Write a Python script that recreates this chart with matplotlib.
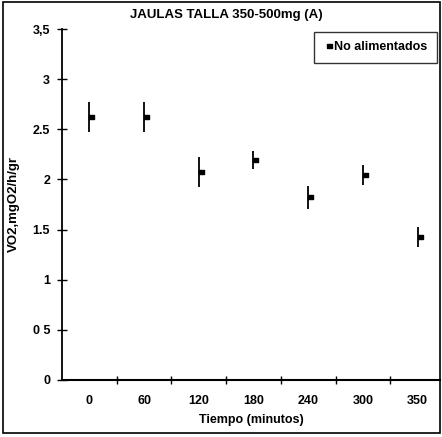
import matplotlib
matplotlib.use("Agg")
import matplotlib.pyplot as plt
from matplotlib.patches import Rectangle

plt.rcParams['font.family'] = ['Liberation Sans', 'DejaVu Sans']

# data
tiempos = ['0', '60', '120', '180', '240', '300', '350']
vo2 = [2.62, 2.62, 2.07, 2.19, 1.82, 2.04, 1.43]
err = [0.15, 0.15, 0.15, 0.09, 0.11, 0.10, 0.10]

fig = plt.figure(figsize=(4.42, 4.37), dpi=100)
ax = fig.add_axes([62 / 442, 1 - 380 / 437, (440 - 62) / 442, (380 - 29) / 437])

x = list(range(len(tiempos)))
ax.errorbar(x, vo2, yerr=err, fmt='none', ecolor='black', elinewidth=1.3, capsize=0)
# small block marker sitting right of the error line
blk = [(0, -0.4), (1, -0.4), (1, 0.4), (0, 0.4), (0, -0.4)]
ax.plot(x, vo2, linestyle='none', marker=blk, markersize=7, color='black',
        label='No alimentados')

ax.set_xlim(-0.5, 6.41)
ax.set_ylim(0, 3.5)
ax.set_yticks([0, 0.5, 1, 1.5, 2, 2.5, 3, 3.5])
ax.set_yticklabels(['0', '0 5', '1', '1.5', '2', '2.5', '3', '3,5'])
ax.set_xticks([i + 0.5 for i in range(6)])
ax.set_xticklabels([])
ax.set_xticks(x, minor=True)
ax.set_xticklabels(tiempos, minor=True)
ax.tick_params(axis='x', which='major', direction='inout', length=6, width=1)
ax.tick_params(axis='x', which='minor', length=0, pad=11, labelsize=9)
ax.tick_params(axis='y', direction='inout', length=7, width=1, labelsize=9, pad=5)
for lab in ax.get_xticklabels(minor=True) + ax.get_yticklabels():
    lab.set_fontweight('bold')

for s in ['top', 'right']:
    ax.spines[s].set_visible(False)
ax.spines['left'].set_linewidth(1.3)
ax.spines['bottom'].set_linewidth(1.5)

ax.set_xlabel('Tiempo (minutos)', fontsize=9, fontweight='bold', labelpad=5)
ax.set_ylabel('VO2,mgO2/h/gr', fontsize=9.5, fontweight='bold', labelpad=9)
fig.text(226 / 442, 1 - 15 / 437, 'JAULAS TALLA 350-500mg (A)', ha='center', va='center',
         fontsize=9.5, fontweight='bold')

leg = ax.legend(loc='upper right', bbox_to_anchor=(0.992, 0.992), frameon=True, fancybox=False,
                edgecolor='black', handlelength=0.6, handletextpad=0.3, borderpad=0.75,
                borderaxespad=0, prop={'size': 9, 'weight': 'bold'})
leg.get_frame().set_linewidth(1.0)

fig.patches.append(Rectangle((3 / 442, 4 / 437), 437 / 442, 431 / 437, transform=fig.transFigure,
                             fill=False, edgecolor='black', linewidth=1.2))

fig.savefig('out.png', dpi=100)
